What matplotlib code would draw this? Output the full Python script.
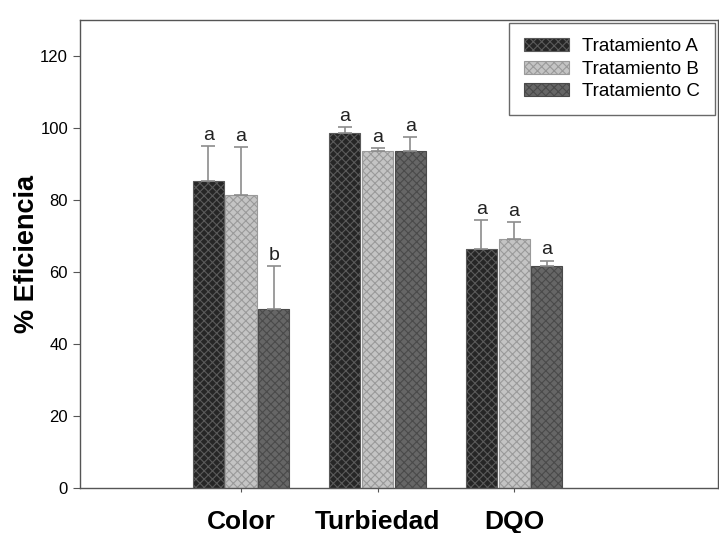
import matplotlib
matplotlib.use("Agg")
import matplotlib.pyplot as plt
import numpy as np

plt.rcParams['font.family'] = ['Liberation Sans', 'DejaVu Sans']
plt.rcParams['hatch.linewidth'] = 0.8

categories = ["Color", "Turbiedad", "DQO"]
series = ["Tratamiento A", "Tratamiento B", "Tratamiento C"]
values_A = [85.3, 98.5, 66.5]
values_B = [81.5, 93.6, 69.2]
values_C = [49.8, 93.6, 61.8]
err_A = [9.6, 1.8, 8.0]
err_B = [13.2, 0.8, 4.6]
err_C = [11.8, 3.8, 1.4]
letters_A = ["a", "a", "a"]
letters_B = ["a", "a", "a"]
letters_C = ["b", "a", "a"]

fig = plt.figure(figsize=(7.19, 5.33), dpi=100)
ax = fig.add_axes([0.111, 0.0844, 0.887, 0.878])

x = np.arange(len(categories))
w = 0.228
gap = 0.012
styles = [
    dict(facecolor="#262626", hatch_color="#5a5a5a"),
    dict(facecolor="#c4c4c4", hatch_color="#9a9a9a"),
    dict(facecolor="#666666", hatch_color="#4a4a4a"),
]
vals = [values_A, values_B, values_C]
errs = [err_A, err_B, err_C]
lets = [letters_A, letters_B, letters_C]
for i, (v, e, l, st, name) in enumerate(zip(vals, errs, lets, styles, series)):
    pos = x + (i - 1) * (w + gap)
    ax.bar(pos, v, width=w, facecolor=st["facecolor"], edgecolor=st["hatch_color"],
           hatch="xxxx", linewidth=0.8, label=name, zorder=2)
    ax.errorbar(pos, v, yerr=[np.zeros(len(v)), e], fmt="none", ecolor="#8c8c8c",
                elinewidth=1.2, capsize=4.7, capthick=1.2, zorder=3)
    for p, val, er, let in zip(pos, v, e, l):
        ax.text(p, val + er + 0.6, let, ha="center", va="bottom", fontsize=14, color="#222222")

ax.set_xlim(-1.18, 3.49)
ax.set_ylim(0, 130)
ax.set_yticks([0, 20, 40, 60, 80, 100, 120])
ax.set_xticks(x)
ax.set_xticklabels(categories, fontsize=19, fontweight="bold")
ax.tick_params(axis="x", length=3, pad=13, color="#555555")
ax.tick_params(axis="y", labelsize=12, length=5, color="#555555")
ax.set_ylabel("% Eficiencia", fontsize=19.5, fontweight="bold")
ax.yaxis.set_label_coords(-0.062, 0.5)
for s in ax.spines.values():
    s.set_color("#555555")
    s.set_linewidth(1.0)

leg = ax.legend(loc="upper right", fontsize=13.5, frameon=True, fancybox=False,
                edgecolor="#444444", borderpad=0.8, handlelength=2.4, handleheight=0.7,
                labelspacing=0.3, borderaxespad=0.15, handletextpad=0.7)
leg.get_frame().set_linewidth(1.0)

fig.savefig("out.png", dpi=100)
